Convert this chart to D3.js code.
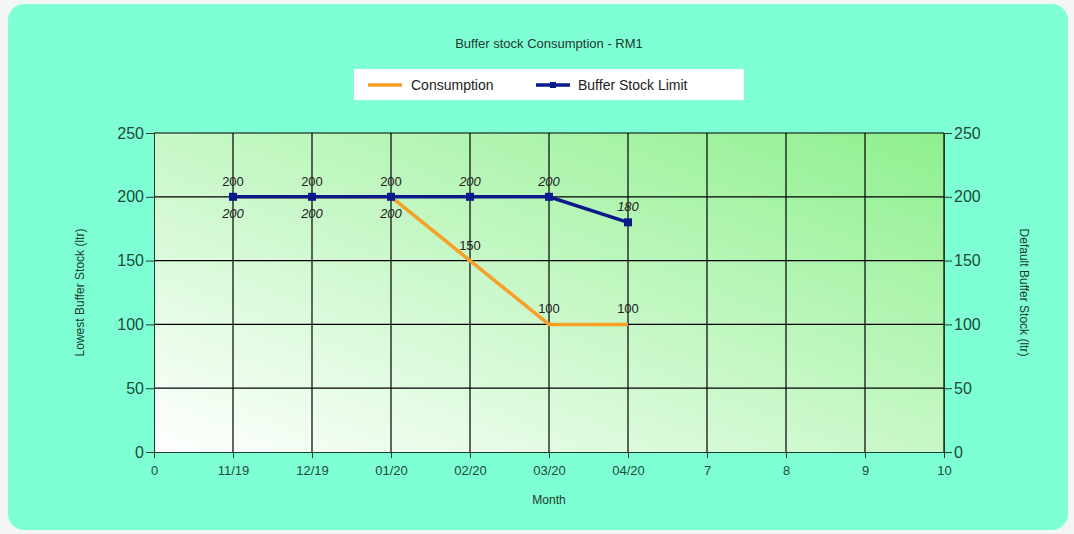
<!DOCTYPE html>
<html>
<head>
<meta charset="utf-8" />
<title>Buffer stock Consumption - RM1</title>
<script src="https://d3js.org/d3.v7.min.js"></script>
<style>
    body { margin: 0; background-color: #f4f6f5; font-family: "Liberation Sans", Arial, sans-serif; }
    svg { display: block; }
    .tick text { fill: #1d4a3c; }
</style>
</head>
<body>
<div id="container"></div>
<script>
    var width = 1074, height = 534;

    // data
    var months = ["11/19", "12/19", "01/20", "02/20", "03/20", "04/20"];
    var xTickLabels = ["0", "11/19", "12/19", "01/20", "02/20", "03/20", "04/20", "7", "8", "9", "10"];
    var consumption = [200, 200, 200, 150, 100, 100];
    var bufferLimit = [200, 200, 200, 200, 200, 180];
    // where the italic buffer labels sit (below where they would hit the consumption labels)
    var limitLabelBelow = [true, true, true, false, false, false];

    var margin = {left: 154, right: 130, top: 133, bottom: 82};

    var svg = d3.select("#container").append("svg")
        .attr("width", width).attr("height", height);

    var defs = svg.append("defs");
    var grad = defs.append("linearGradient").attr("id", "plotbg")
        .attr("x1", "0%").attr("y1", "100%").attr("x2", "100%").attr("y2", "0%");
    grad.append("stop").attr("offset", "0%").attr("stop-color", "#ffffff");
    grad.append("stop").attr("offset", "100%").attr("stop-color", "#8ef08e");

    /* outer panel */
    svg.append("rect")
        .attr("x", 8).attr("y", 4)
        .attr("width", 1060).attr("height", 526)
        .attr("rx", 16).attr("ry", 16)
        .attr("fill", "#7fffd4");

    var x = d3.scaleLinear().domain([0, 10]).range([margin.left, width - margin.right]);
    var y = d3.scaleLinear().domain([0, 250]).range([height - margin.bottom, margin.top]);

    /* plot background */
    svg.append("rect")
        .attr("x", x(0)).attr("y", y(250))
        .attr("width", x(10) - x(0)).attr("height", y(0) - y(250))
        .attr("fill", "url(#plotbg)");

    /* grid */
    var grid = svg.append("g");
    grid.selectAll("line.v").data(d3.range(1, 11))
        .enter().append("line")
        .attr("x1", function (d) { return x(d); }).attr("x2", function (d) { return x(d); })
        .attr("y1", y(0)).attr("y2", y(250))
        .attr("stroke", "#000").attr("stroke-width", 1.2);
    grid.selectAll("line.h").data(d3.range(50, 300, 50))
        .enter().append("line")
        .attr("x1", x(0)).attr("x2", x(10))
        .attr("y1", function (d) { return y(d); }).attr("y2", function (d) { return y(d); })
        .attr("stroke", "#000").attr("stroke-width", 1.2);

    /* axes */
    var xAxis = d3.axisBottom(x).tickValues(d3.range(0, 11))
        .tickFormat(function (d) { return xTickLabels[d]; })
        .tickSize(6).tickPadding(8);
    svg.append("g").attr("transform", "translate(0," + y(0) + ")").call(xAxis)
        .call(function (g) {
            g.select(".domain").attr("stroke", "#1d3a30");
            g.selectAll(".tick line").attr("stroke", "#1d3a30");
            g.selectAll("text").style("font-size", "13px");
        });

    var yLeft = d3.axisLeft(y).tickValues(d3.range(0, 300, 50)).tickSize(8).tickPadding(2);
    svg.append("g").attr("transform", "translate(" + x(0) + ",0)").call(yLeft)
        .call(function (g) {
            g.select(".domain").attr("stroke", "#1d3a30");
            g.selectAll(".tick line").attr("stroke", "#1d3a30");
            g.selectAll("text").style("font-size", "16px");
        });

    var yRight = d3.axisRight(y).tickValues(d3.range(0, 300, 50)).tickSize(8).tickPadding(2);
    svg.append("g").attr("transform", "translate(" + x(10) + ",0)").call(yRight)
        .call(function (g) {
            g.select(".domain").attr("stroke", "#1d3a30");
            g.selectAll(".tick line").attr("stroke", "#1d3a30");
            g.selectAll("text").style("font-size", "16px");
        });

    /* axis titles */
    svg.append("text").text("Month")
        .attr("x", (x(0) + x(10)) / 2).attr("y", 504)
        .attr("text-anchor", "middle").style("font-size", "12px").attr("fill", "#1d3a30");
    svg.append("text").text("Lowest Buffer Stock (ltr)")
        .attr("transform", "translate(84," + y(125) + ") rotate(-90)")
        .attr("text-anchor", "middle").style("font-size", "12px").attr("fill", "#1d3a30");
    svg.append("text").text("Default Buffer Stock (ltr)")
        .attr("transform", "translate(1020," + y(125) + ") rotate(90)")
        .attr("text-anchor", "middle").style("font-size", "12px").attr("fill", "#1d3a30");

    /* title */
    svg.append("text").text("Buffer stock Consumption - RM1")
        .attr("x", 549).attr("y", 48)
        .attr("text-anchor", "middle").style("font-size", "13px").attr("fill", "#1d3a30");

    /* lines */
    var line = d3.line()
        .x(function (d, i) { return x(i + 1); })
        .y(function (d) { return y(d); });

    svg.append("path").datum(consumption)
        .attr("d", line).attr("fill", "none")
        .attr("stroke", "#f7a028").attr("stroke-width", 3.5);

    svg.append("path").datum(bufferLimit)
        .attr("d", line).attr("fill", "none")
        .attr("stroke", "#0a1a8a").attr("stroke-width", 3.5);

    svg.selectAll("rect.mk").data(bufferLimit)
        .enter().append("rect").attr("class", "mk")
        .attr("x", function (d, i) { return x(i + 1) - 4; })
        .attr("y", function (d) { return y(d) - 4; })
        .attr("width", 8).attr("height", 8)
        .attr("fill", "#0a1a8a");

    /* data labels */
    svg.selectAll("text.cl").data(consumption)
        .enter().append("text").attr("class", "cl")
        .text(function (d) { return d; })
        .attr("x", function (d, i) { return x(i + 1); })
        .attr("y", function (d) { return y(d) - 11; })
        .attr("text-anchor", "middle").style("font-size", "13px").attr("fill", "#222");

    svg.selectAll("text.bl").data(bufferLimit)
        .enter().append("text").attr("class", "bl")
        .text(function (d) { return d; })
        .attr("x", function (d, i) { return x(i + 1); })
        .attr("y", function (d, i) { return limitLabelBelow[i] ? y(d) + 21 : y(d) - 11; })
        .attr("text-anchor", "middle").style("font-size", "13px")
        .style("font-style", "italic").attr("fill", "#222");

    /* legend */
    var lg = svg.append("g").attr("transform", "translate(354,69)");
    lg.append("rect").attr("width", 390).attr("height", 31).attr("fill", "#fff");
    lg.append("line").attr("x1", 14).attr("x2", 48).attr("y1", 16).attr("y2", 16)
        .attr("stroke", "#f7a028").attr("stroke-width", 3.5);
    lg.append("text").text("Consumption").attr("x", 57).attr("y", 21)
        .style("font-size", "14px").attr("fill", "#222");
    lg.append("line").attr("x1", 182).attr("x2", 216).attr("y1", 16).attr("y2", 16)
        .attr("stroke", "#0a1a8a").attr("stroke-width", 3.5);
    lg.append("rect").attr("x", 196).attr("y", 13).attr("width", 6).attr("height", 6)
        .attr("fill", "#0a1a8a");
    lg.append("text").text("Buffer Stock Limit").attr("x", 224).attr("y", 21)
        .style("font-size", "14px").attr("fill", "#222");
</script>
</body>
</html>
